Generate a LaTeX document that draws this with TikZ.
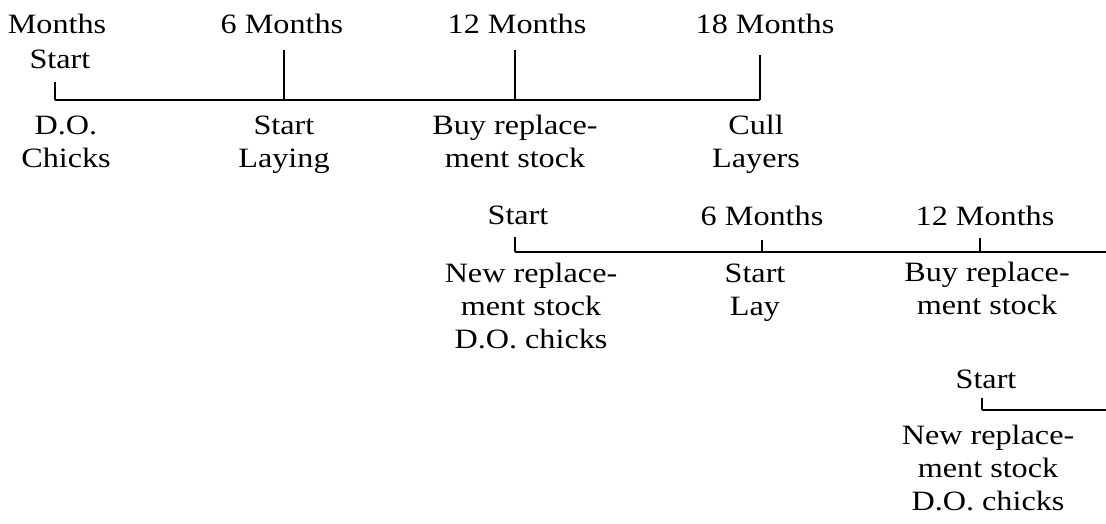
\documentclass[tikz,border=0pt]{standalone}
\usepackage{fontspec}
\setmainfont[FakeStretch=1.15]{Liberation Serif}
\usepackage{tikz}

\begin{document}
\begin{tikzpicture}[x=1pt,y=-1pt,
	line/.style={line width=2.6pt, draw=black},
	lbl/.style={anchor=base, inner sep=0pt, align=center, font=\fontsize{28}{33}\selectfont}]

	\useasboundingbox (0,0) rectangle (1106,523);

	%First flock
	\coordinate (A0) at (55,100);
	\coordinate (A1) at (284,100);
	\coordinate (A2) at (515,100);
	\coordinate (A3) at (760,100);
	\draw[line] (A0) -- (A3);
	\draw[line] (A0) -- ++(0,-18);
	\draw[line] (A1) -- ++(0,-50);
	\draw[line] (A2) -- ++(0,-50);
	\draw[line] (A3) -- ++(0,-45);

	\node[lbl] (mA0) at (57,33) {Months};
	\node[lbl] (sA0) at (60,68) {Start};
	\node[lbl] (mA1) at (282,33) {6 Months};
	\node[lbl] (mA2) at (517,33) {12 Months};
	\node[lbl] (mA3) at (765,33) {18 Months};

	%base is the last line
	\node[lbl] (bA0) at (66,167) {D.O.\\Chicks};
	\node[lbl] (bA1) at (284,167) {Start\\Laying};
	\node[lbl] (bA2) at (515,167) {Buy replace-\\ment stock};
	\node[lbl] (bA3) at (756,167) {Cull\\Layers};

	%Second flock
	\coordinate (B0) at (515,252);
	\coordinate (B1) at (762,252);
	\coordinate (B2) at (980,252);
	\coordinate (B3) at (1106,252);
	\draw[line] (B0) -- (B3);
	\draw[line] (B0) -- ++(0,-15);
	\draw[line] (B1) -- ++(0,-12);
	\draw[line] (B2) -- ++(0,-14);

	\node[lbl] (mB0) at (518,224) {Start};
	\node[lbl] (mB1) at (762,225) {6 Months};
	\node[lbl] (mB2) at (985,225) {12 Months};

	\node[lbl] (bB0) at (531,348) {New replace-\\ment stock\\D.O. chicks};
	\node[lbl] (bB1) at (755,315) {Start\\Lay};
	\node[lbl] (bB2) at (987,314) {Buy replace-\\ment stock};

	%Third flock
	\coordinate (C0) at (982,410);
	\coordinate (C1) at (1106,410);
	\draw[line] (C0) -- (C1);
	\draw[line] (C0) -- ++(0,-12);

	\node[lbl] (mC0) at (986,388) {Start};
	\node[lbl] (bC0) at (988,510) {New replace-\\ment stock\\D.O. chicks};

\end{tikzpicture}
\end{document}
